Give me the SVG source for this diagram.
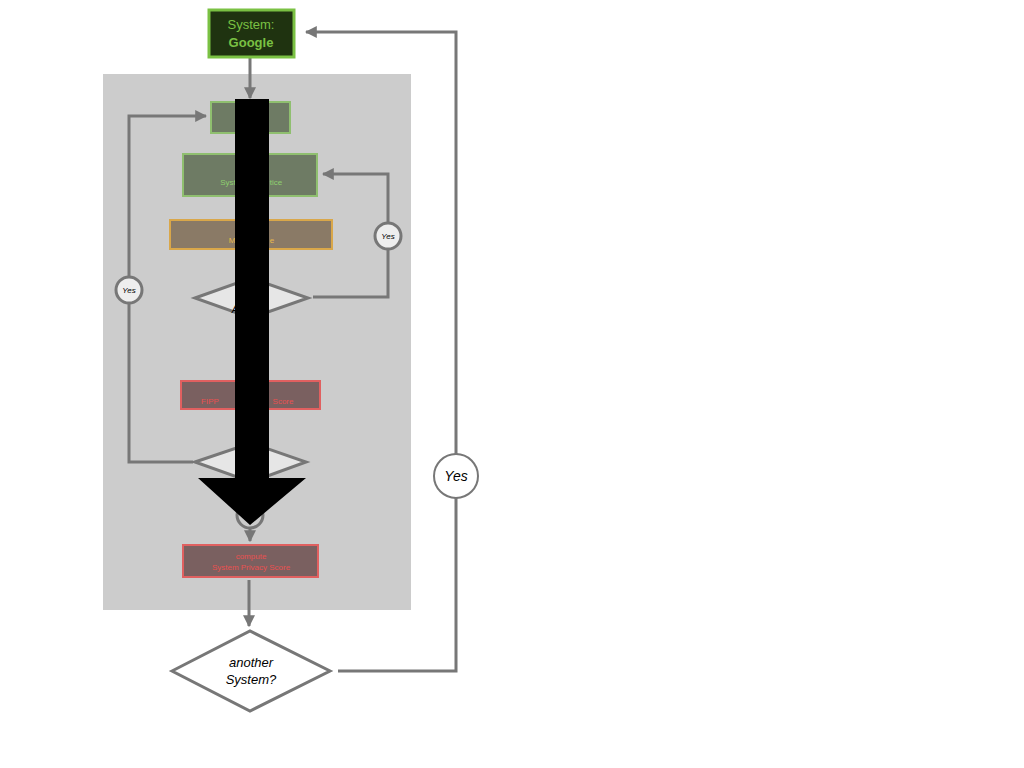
<svg xmlns="http://www.w3.org/2000/svg" width="1024" height="768" viewBox="0 0 1024 768">
<style>
.c{fill:none;stroke:#777;stroke-width:3}
.yes{fill:#eee;stroke:#777;stroke-width:3}
.t{font-family:"Liberation Sans",Arial,sans-serif;text-anchor:middle}
.sm{font-size:8px;font-style:italic}
</style>
<defs><marker id="a" viewBox="0 0 10 10" refX="9" refY="5" markerWidth="4" markerHeight="4" orient="auto"><path d="M0,0L10,5L0,10z" fill="#777"/></marker></defs>
<rect x="103" y="74" width="308" height="536" fill="#cccccc"/>
<g id="connectors">
<path class="c" d="M250,58V98" marker-end="url(#a)"/>
<path class="c" d="M193,462H129V116H206" marker-end="url(#a)"/>
<path class="c" d="M313,297H388V174H323" marker-end="url(#a)"/>
<path class="c" d="M338,671H456V32H306" marker-end="url(#a)"/>
<path class="c" d="M250,528V541" marker-end="url(#a)"/>
<path class="c" d="M249,580V626" marker-end="url(#a)"/>
<circle class="yes" cx="129" cy="290" r="13"/><text class="t sm" x="129" y="293">Yes</text>
<circle class="yes" cx="388" cy="236" r="13"/><text class="t sm" x="388" y="239">Yes</text>
<circle cx="456" cy="476" r="22" fill="#fff" stroke="#777" stroke-width="2"/><text class="t" x="456" y="481" font-size="14" font-style="italic">Yes</text>
<circle cx="250" cy="515" r="13" fill="none" stroke="#777" stroke-width="3"/>
</g>
<g id="google"><rect x="209" y="10" width="85" height="47" fill="#1f3310" stroke="#7ac143" stroke-width="3"/>
<text class="t" x="251" y="29" font-size="13" fill="#7ac143">System:</text><text class="t" x="251" y="47" font-size="13" font-weight="bold" fill="#7ac143">Google</text></g>
<g id="n1"><rect x="211" y="102" width="79" height="31" fill="#6e7b64" stroke="#8fbf6f" stroke-width="2"/></g>
<g id="n2"><rect x="183" y="154" width="134" height="42" fill="#6e7b64" stroke="#8fbf6f" stroke-width="2"/>
<text class="t" x="228" y="185" font-size="8" fill="#8fd06f">Syst</text><text class="t" x="276" y="185" font-size="8" fill="#8fd06f">tice</text></g>
<g id="n3"><rect x="170" y="220" width="162" height="29" fill="#8a7a66" stroke="#d9a74a" stroke-width="2"/>
<text class="t" x="232" y="243" font-size="8" fill="#e8b84a">M</text><text class="t" x="272" y="243" font-size="8" fill="#e8b84a">e</text></g>
<g id="d1"><path d="M195,298L251,278L308,298L251,318z" fill="#e6e6e6" stroke="#777" stroke-width="3"/>
<text class="t" x="235" y="313" font-size="10" font-style="italic">A</text></g>
<g id="n4"><rect x="181" y="381" width="139" height="28" fill="#7a6060" stroke="#e06060" stroke-width="2"/>
<text class="t" x="210" y="404" font-size="8" fill="#e85050">FIPP</text><text class="t" x="283" y="404" font-size="8" fill="#e85050">Score</text></g>
<g id="d2"><path d="M195,462L251,443L306,462L251,482z" fill="#e6e6e6" stroke="#777" stroke-width="3"/></g>
<g id="n5"><rect x="183" y="545" width="135" height="32" fill="#7a6060" stroke="#e06060" stroke-width="2"/>
<text class="t" x="251" y="559" font-size="8" fill="#e85050">compute</text><text class="t" x="251" y="570" font-size="8" fill="#e85050">System Privacy Score</text></g>
<g id="d3"><path d="M172,671L250,631L330,671L250,711z" fill="#fff" stroke="#777" stroke-width="3"/>
<text class="t" x="251" y="667" font-size="13" font-style="italic">another</text><text class="t" x="251" y="684" font-size="13" font-style="italic">System?</text></g>
<g id="bigarrow"><path d="M235,99H269V478H306L250,525L198,478H235z" fill="#000"/></g>
</svg>
